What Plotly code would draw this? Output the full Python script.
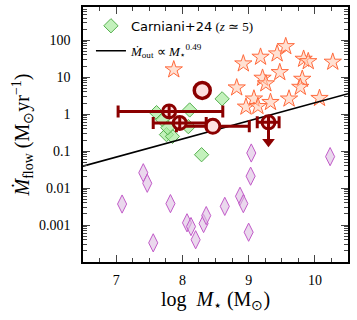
import plotly.graph_objects as go

# ---------------- data ----------------
# Reference stars (log M*, Mdot)
star_x = [8.92, 9.18, 9.43, 9.56, 9.83, 9.90, 10.27, 9.21, 9.26, 9.47, 9.81, 9.78,
          8.82, 9.08, 9.33, 8.96, 9.14, 9.61, 10.07, 7.87]
star_y = [23.2, 35.2, 43.2, 68, 31, 26.7, 25.8, 9.5, 6.7, 13.5, 8.9, 5.4,
          5.2, 2.6, 2.1, 1.57, 1.63, 2.6, 2.7, 16]

# Purple diamonds
pdia_x = [7.09, 7.41, 7.47, 7.56, 7.82, 8.07, 8.13, 8.20, 8.32, 8.36, 8.64, 8.87,
          8.92, 9.00, 9.03, 9.04, 10.23]
pdia_y = [0.0037, 0.026, 0.0135, 0.00033, 0.0038, 0.00115, 0.00091, 0.0004, 0.0011,
          0.0018, 0.0032, 0.006, 0.0038, 0.00064, 0.021, 0.089, 0.071]

# Carniani+24 (green diamonds)
carn_x = [7.61, 7.70, 7.76, 7.85, 7.78, 8.11, 8.09, 8.60, 8.29]
carn_y = [1.1, 0.71, 0.28, 0.25, 0.43, 1.3, 0.46, 2.6, 0.08]

# This work: circle-cross points with x errors
cc_x = [7.80, 7.96, 9.30]
cc_y = [1.19, 0.58, 0.60]
cc_xerr_minus = [0.77, 0.40, 0.17]
cc_xerr_plus = [0.81, 0.40, 0.16]

# Plain circles
oc_x = [8.46]
oc_y = [0.47]
oc_xerr_minus = [0.55]
oc_xerr_plus = [0.55]

big_x = [8.30]
big_y = [4.4]

# upper-limit point (index into cc arrays)
ul_index = 2
ul_factor = 0.3

# Scaling relation Mdot_out ∝ M*^0.49
rel_slope = 0.49
rel_logA = -4.591
rel_x = [6.5, 10.5]
rel_y = [10 ** (rel_logA + rel_slope * x) for x in rel_x]

xticks = [7, 8, 9, 10]
yticks = [0.001, 0.01, 0.1, 1, 10, 100]
yticktext = ["0.001", "0.01", "0.1", "1", "10", "100"]

# ---------------- styles ----------------
DR = "#8b0000"
PINK = "#fde0e0"
SERIF = "Liberation Serif"
STAR = "<span style='font-family:DejaVu Sans'>⋆</span>"

fig = go.Figure()

fig.add_trace(go.Scatter(
    x=star_x, y=star_y, mode="markers", showlegend=False,
    marker=dict(symbol="star", size=13, color="rgba(255,200,175,0.55)",
                line=dict(color="#ff6a3d", width=1))))

fig.add_trace(go.Scatter(
    x=pdia_x, y=pdia_y, mode="markers", showlegend=False,
    marker=dict(symbol="diamond-tall", size=13, color="rgba(220,190,225,0.6)",
                line=dict(color="#c25bc9", width=1))))

fig.add_trace(go.Scatter(
    x=carn_x, y=carn_y, mode="markers", legendgroup="a",
    name="<span style='font-family:DejaVu Sans'>Carniani+24</span> (<i>z</i> ≃ 5)",
    marker=dict(symbol="diamond", size=11, color="rgba(170,235,160,0.7)",
                line=dict(color="#55b04e", width=1))))

fig.add_trace(go.Scatter(
    x=rel_x, y=rel_y, mode="lines", legendgroup="b",
    name="<i>Ṁ</i><sub>out</sub> ∝ <i>M</i><sub>" + STAR + "</sub><sup>0.49</sup>",
    line=dict(color="black", width=1.6)))

# upper limit arrow
ux = cc_x[ul_index]
uy = cc_y[ul_index]
fig.add_trace(go.Scatter(
    x=[ux, ux], y=[uy, uy * ul_factor], mode="lines", showlegend=False,
    line=dict(color=DR, width=3)))
fig.add_trace(go.Scatter(
    x=[ux], y=[uy * ul_factor], mode="markers", showlegend=False,
    marker=dict(symbol="triangle-down", size=11, color=DR, line=dict(width=0))))

fig.add_trace(go.Scatter(
    x=oc_x, y=oc_y, mode="markers", showlegend=False,
    error_x=dict(type="data", array=oc_xerr_plus, arrayminus=oc_xerr_minus,
                 color=DR, thickness=3, width=6),
    marker=dict(symbol="circle", size=14, color=PINK, line=dict(color=DR, width=3))))

fig.add_trace(go.Scatter(
    x=cc_x, y=cc_y, mode="markers", showlegend=False,
    error_x=dict(type="data", array=cc_xerr_plus, arrayminus=cc_xerr_minus,
                 color=DR, thickness=3, width=6),
    marker=dict(symbol="circle-cross", size=13, color=PINK, line=dict(color=DR, width=3))))

fig.add_trace(go.Scatter(
    x=big_x, y=big_y, mode="markers", showlegend=False,
    marker=dict(symbol="circle", size=16, color=PINK, line=dict(color=DR, width=3.5))))

minor_y = [k * 10 ** n for n in range(-4, 3) for k in range(2, 10)]

fig.update_layout(
    width=357, height=320,
    margin=dict(l=83, r=9, t=7, b=58),
    paper_bgcolor="white", plot_bgcolor="white",
    font=dict(family=SERIF, size=14, color="black"),
    legend=dict(x=0.03, y=0.985, xanchor="left", yanchor="top",
                bgcolor="rgba(0,0,0,0)", font=dict(size=13, family=SERIF),
                tracegroupgap=5, itemwidth=30),
    xaxis=dict(range=[6.5, 10.5], tickvals=xticks, ticks="inside", ticklen=7,
               tickwidth=1.2, mirror="allticks", showline=True, linecolor="black",
               linewidth=1.5, showgrid=False, zeroline=False, automargin=False,
               tickfont=dict(size=14, family=SERIF), ticklabelstandoff=4,
               minor=dict(dtick=0.25, tick0=0, ticks="inside", ticklen=4, tickwidth=1.2,
                          showgrid=False),
               title=dict(text="log  <i>M</i><sub>" + STAR + "</sub> (M<sub>⊙</sub>)",
                          font=dict(size=20, family=SERIF), standoff=4)),
    yaxis=dict(type="log", range=[-4, 2.9], tickvals=yticks, ticktext=yticktext,
               ticks="inside", ticklen=7, tickwidth=1.2, mirror="allticks",
               showline=True, linecolor="black", linewidth=1.5, showgrid=False,
               zeroline=False, automargin=False, ticklabelstandoff=8,
               tickfont=dict(size=14, family=SERIF),
               minor=dict(tickvals=minor_y, ticks="inside", ticklen=4, tickwidth=1,
                          showgrid=False),
               title=dict(text="<i>Ṁ</i><sub>flow</sub> (M<sub>⊙</sub>yr<sup>−1</sup>)",
                          font=dict(size=20, family=SERIF), standoff=4)),
)

fig.write_html("out.html", config={"displayModeBar": False},
               post_script="document.body.style.margin='0px';")
